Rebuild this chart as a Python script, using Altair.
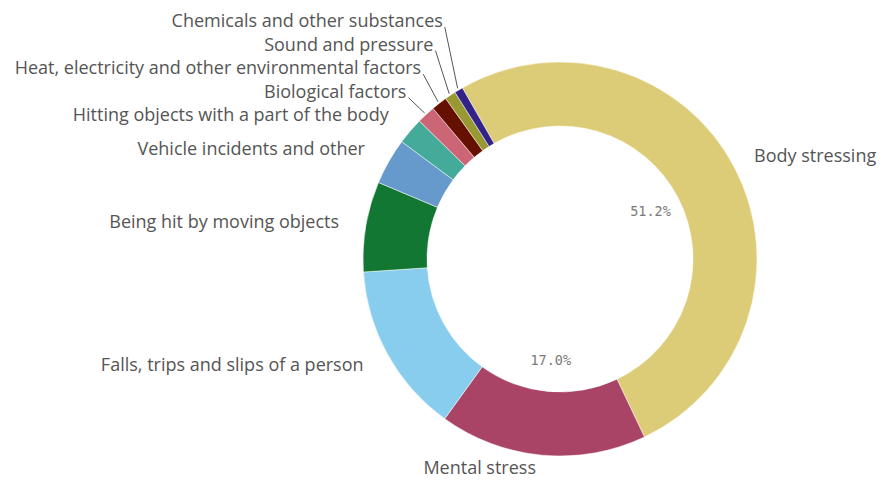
import math
import altair as alt
import pandas as pd

# ---- data ----
categories = [
    "Body stressing",
    "Mental stress",
    "Falls, trips and slips of a person",
    "Being hit by moving objects",
    "Vehicle incidents and other",
    "Hitting objects with a part of the body",
    "Biological factors",
    "Heat, electricity and other environmental factors",
    "Sound and pressure",
    "Chemicals and other substances",
]
values = [51.2, 17.0, 14.0, 7.4, 3.8, 2.2, 1.5, 1.3, 0.9, 0.7]
colors = ["#ddcc77", "#aa4466", "#88ccee", "#117733", "#6699cc",
          "#44aa99", "#cc6677", "#661100", "#999933", "#332288"]

# ---- layout ----
W, H = 870, 472
CX, CY = 552, 251
R_IN, R_OUT = 133, 197
START_DEG = -29.7
LABEL_R = 220
LINE_GAP = 23.5
PCT_R = 102
FONT = "Open Sans"
FS = 18
Y_MAX = H - 11  # keep the lowest label inside the chart area

total = sum(values)
rows = []
cum = 0.0
for i, (c, v) in enumerate(zip(categories, values)):
    a0 = START_DEG + cum / total * 360
    cum += v
    a1 = START_DEG + cum / total * 360
    mid = math.radians((a0 + a1) / 2)
    ax = CX + LABEL_R * math.sin(mid)
    ay = CY - LABEL_R * math.cos(mid)
    rows.append(dict(category=c, value=v, order=i, mid=mid, ax=ax, ay=ay,
                     side="right" if math.sin(mid) > 0 else "left",
                     pct=f"{v:.1f}%" if v > 15 else ""))

# stack left-side labels upward to avoid overlaps
prev = {"left": float("inf"), "right": float("inf")}
for r in rows:
    s = r["side"]
    y = min(r["ay"], prev[s] - LINE_GAP)
    r["displaced"] = y < r["ay"] - 0.5
    y = min(y, Y_MAX)
    r["ly"] = y
    r["lx"] = r["ax"] - 4 if s == "left" else r["ax"] - 1
    prev[s] = y
    # leader line
    r["x1"] = r["lx"] + 2
    r["y1"] = y + 5
    r["x2"] = CX + (R_OUT + 2) * math.sin(r["mid"])
    r["y2"] = CY - (R_OUT + 2) * math.cos(r["mid"])

df = pd.DataFrame(rows)

theta_scale = alt.Scale(domain=[0, total],
                        range=[math.radians(START_DEG), math.radians(START_DEG) + 2 * math.pi])
color_scale = alt.Scale(domain=categories, range=colors)
xs = alt.Scale(domain=[0, W], nice=False, zero=False)
ys = alt.Scale(domain=[0, H], reverse=True, nice=False, zero=False)

base = alt.Chart(df)

arcs = base.mark_arc(innerRadius=R_IN, outerRadius=R_OUT, stroke="#ffffff", strokeWidth=0.5).encode(
    theta=alt.Theta("value:Q", stack=True, scale=theta_scale),
    order=alt.Order("order:Q"),
    color=alt.Color("category:N", scale=color_scale, legend=None),
    x=alt.value(CX),
    y=alt.value(CY),
)

pct = base.mark_text(radius=PCT_R, font="DejaVu Sans Mono", fontSize=13.5, color="#7a7a7a",
                     align="center", baseline="middle").encode(
    theta=alt.Theta("value:Q", stack=True, scale=theta_scale),
    order=alt.Order("order:Q"),
    text="pct:N",
    x=alt.value(CX),
    y=alt.value(CY),
)

leaders = base.transform_filter("datum.displaced").mark_rule(color="#555555", strokeWidth=1).encode(
    x=alt.X("x1:Q", scale=xs, axis=None),
    y=alt.Y("y1:Q", scale=ys, axis=None),
    x2="x2:Q",
    y2="y2:Q",
)

left_labels = base.transform_filter("datum.side == 'left'").mark_text(
    align="right", baseline="middle", font=FONT, fontSize=FS, color="#555555").encode(
    x=alt.X("lx:Q", scale=xs, axis=None),
    y=alt.Y("ly:Q", scale=ys, axis=None),
    text="category:N",
)

right_labels = base.transform_filter("datum.side == 'right'").mark_text(
    align="left", baseline="middle", font=FONT, fontSize=FS, color="#555555").encode(
    x=alt.X("lx:Q", scale=xs, axis=None),
    y=alt.Y("ly:Q", scale=ys, axis=None),
    text="category:N",
)

chart = alt.layer(arcs, pct, leaders, left_labels, right_labels).properties(
    width=W, height=H,
    autosize=alt.AutoSizeParams(type="none"),
    padding=0,
    background="#ffffff",
).configure_view(stroke=None)

chart.save("out.html", embed_options={"renderer": "svg", "actions": False})
